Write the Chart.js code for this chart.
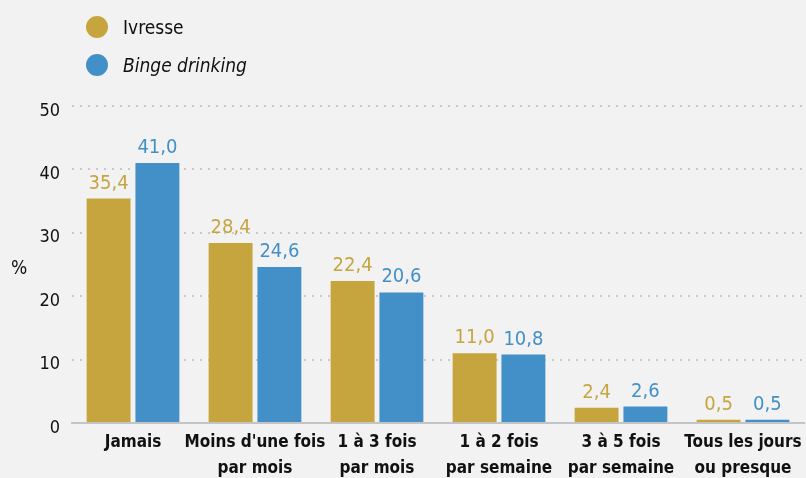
<!DOCTYPE html>
<html><head><meta charset="utf-8">
<script src="https://cdn.jsdelivr.net/npm/chart.js@4"></script>
<style>
html,body{margin:0;padding:0;background:#f2f2f2;}
#wrap{position:relative;width:806px;height:478px;}
canvas{position:absolute;left:0;top:0;}
.leg{position:absolute;left:86px;font-family:'DejaVu Sans Condensed','Liberation Sans Narrow',sans-serif;font-size:19px;color:#111;}
.leg span.dot{position:absolute;left:0;top:0;width:22px;height:22px;border-radius:50%;}
.leg span.t{position:absolute;left:37px;top:0;white-space:nowrap;line-height:22px;}
</style></head>
<body><div id="wrap"><canvas id="c" width="806" height="478"></canvas>
<div class="leg" style="top:16px"><span class="dot" style="background:#c6a53f"></span><span class="t">Ivresse</span></div>
<div class="leg" style="top:54px"><span class="dot" style="background:#4390c8"></span><span class="t" style="font-style:italic">Binge drinking</span></div>
</div>
<script>
const categories = [["Jamais"],["Moins d'une fois","par mois"],["1 à 3 fois","par mois"],["1 à 2 fois","par semaine"],["3 à 5 fois","par semaine"],["Tous les jours","ou presque"]];
const ivresse = [35.4, 28.4, 22.4, 11.0, 2.4, 0.5];
const binge = [41.0, 24.6, 20.6, 10.8, 2.6, 0.5];
const seriesNames = ["Ivresse","Binge drinking"];
const yTicks = [0,10,20,30,40,50];
const FONT = "'DejaVu Sans Condensed','Liberation Sans Narrow',sans-serif";
const GOLD = '#c6a53f', BLUE = '#4390c8';

const labelsPlugin = {
  id:'vlabels',
  afterDatasetsDraw(chart){
    const ctx = chart.ctx;
    ctx.save();
    ctx.font = '20px ' + FONT;
    ctx.textAlign = 'center';
    ctx.textBaseline = 'alphabetic';
    chart.data.datasets.forEach((ds,i)=>{
      const meta = chart.getDatasetMeta(i);
      ctx.fillStyle = ds.backgroundColor;
      meta.data.forEach((bar,j)=>{
        const v = ds.data[j].toFixed(1).replace('.',',');
        ctx.fillText(v, bar.x, bar.y - 10);
      });
    });
    ctx.fillStyle = '#111';
    ctx.font = '19px ' + FONT;
    ctx.textAlign = 'center';
    ctx.textBaseline = 'middle';
    ctx.fillText('%', 19, (chart.chartArea.top + chart.chartArea.bottom)/2 + 5);
    ctx.restore();
  }
};

new Chart(document.getElementById('c'), {
  type:'bar',
  data:{
    labels: categories,
    datasets:[
      {label:seriesNames[0], data:ivresse, backgroundColor:GOLD, categoryPercentage:0.8, barPercentage:0.9},
      {label:seriesNames[1], data:binge, backgroundColor:BLUE, categoryPercentage:0.8, barPercentage:0.9}
    ]
  },
  options:{
    responsive:false,
    animation:false,
    layout:{padding:{top:106,right:2,left:0,bottom:0}},
    plugins:{legend:{display:false},tooltip:{enabled:false}},
    scales:{
      x:{
        grid:{display:false, drawTicks:false},
        border:{display:true,color:'#c4c4c4',width:2},
        ticks:{color:'#111',font:{family:FONT,size:17,weight:'bold',lineHeight:1.5},padding:7,maxRotation:0,autoSkip:false},
        afterFit(s){ s.height = 55; s.paddingRight = 0; s.paddingLeft = 0; }
      },
      y:{
        min:0,max:50,
        afterBuildTicks(s){ s.ticks = yTicks.map(v=>({value:v})); },
        grid:{color:'#c8c8c8',lineWidth:2,drawTicks:false},
        border:{display:false,dash:[2,6]},
        ticks:{color:'#111',font:{family:FONT,size:18},padding:12,labelOffset:5},
        afterFit(s){ s.width = 72; }
      }
    }
  },
  plugins:[labelsPlugin]
});
</script>
</body></html>
